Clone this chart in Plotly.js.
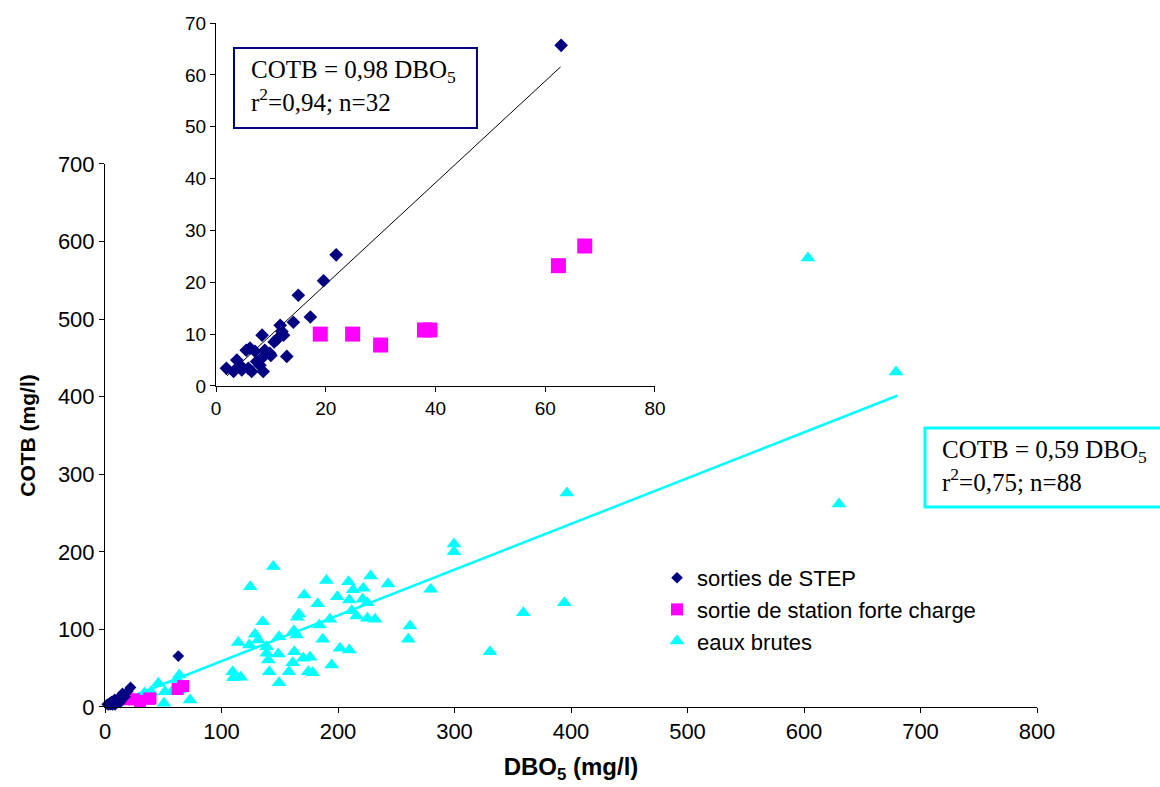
<!DOCTYPE html>
<html>
<head>
<meta charset="utf-8">
<script src="https://cdn.plot.ly/plotly-3.0.1.min.js"></script>
<style>html,body{margin:0;padding:0;background:#fff;}#chart{width:1160px;height:787px;}</style>
</head>
<body>
<div id="chart"></div>
<script>
// sorties de STEP (DBO5, COTB)
const stepDBO = [62.9, 21.9, 19.6, 15.0, 17.2, 14.1, 11.7, 12.0, 12.3, 11.1, 8.4, 12.9, 10.0, 6.2, 7.1, 8.9, 9.8, 8.3, 7.4, 8.0, 8.6, 5.9, 4.4, 3.8, 1.9, 3.2, 4.7, 6.5, 10.6, 5.5];
const stepCOTB = [65.7, 25.3, 20.3, 17.5, 13.3, 12.3, 11.7, 10.5, 9.8, 9.0, 9.8, 5.7, 5.9, 7.3, 6.7, 6.9, 6.3, 5.3, 4.7, 4.0, 2.8, 3.4, 4.0, 5.0, 3.4, 2.8, 3.1, 2.8, 8.5, 6.9];
// sortie de station forte charge
const forteDBO = [19.0, 24.9, 30.0, 38.0, 39.0, 62.4, 67.2];
const forteCOTB = [10.0, 10.0, 7.9, 10.8, 10.8, 23.2, 27.0];
// eaux brutes
const brutesDBO = [144.5, 124.7, 190, 209, 228, 243, 279.6, 171, 199.4, 213, 221.7, 182.6, 209.7, 221.2, 225.2, 166.5, 165.1, 211.8, 216, 225.2, 231.8, 193.1, 184, 135.4, 128.8, 114.4, 123.9, 131.6, 149.4, 162.2, 164.5, 138.8, 138.8, 148.8, 162.5, 170.2, 176, 186.9, 201.7, 209.7, 140.2, 161.1, 194.6, 141, 157.9, 174.5, 178.3, 149.4, 109.6, 110.2, 116.5, 260.4, 261.8, 63.8, 62, 45.8, 39.5, 51.5, 57.2, 63.8, 50.6, 73, 34, 299.6, 299.6, 330.5, 359.1, 394.3, 396.5, 603.4, 630, 679];
const brutesCOTB = [181, 155, 163, 161.5, 169, 158.6, 151.7, 144.4, 142, 151, 153, 133, 138, 138.8, 134.5, 120, 115.6, 124, 117.3, 114.3, 113, 113, 105.7, 110, 93.7, 83, 80, 86.4, 90.6, 98.4, 92.8, 77.7, 69.2, 68.3, 71.3, 62.8, 64.1, 87.3, 75.7, 73.5, 60.6, 57.1, 54.1, 45.5, 45.5, 45.5, 44.2, 31.3, 45.5, 37.8, 38.3, 87.3, 104.4, 41.2, 35.6, 30.5, 19.7, 19.7, 19.7, 21.9, 4.8, 9, 18, 210, 200, 71.3, 121.6, 134.5, 275.8, 578.8, 261.7, 431.9];
// regression lines COTB = a * DBO5
const stepSlope = 0.98;
const stepFitDBO = [2, 62.8];
const brutesSlope = 0.59;
const brutesFitDBO = [24, 680];

const NAVY = '#000080', MAG = '#FF00FF', CYAN = '#00FFFF';
const SANS = 'Liberation Sans, Arial, sans-serif';
const SERIF = 'Liberation Serif, Times New Roman, serif';

const traces = [
  {x: brutesFitDBO, y: brutesFitDBO.map(v => brutesSlope * v), mode: 'lines', line: {color: CYAN, width: 2.5}, showlegend: false, hoverinfo: 'skip', xaxis: 'x', yaxis: 'y'},
  {x: brutesDBO, y: brutesCOTB, mode: 'markers', name: 'eaux brutes', marker: {symbol: 'triangle-up', color: CYAN, size: 13}, cliponaxis: false, xaxis: 'x', yaxis: 'y', legendgroup: 'c', legendrank: 3},
  {x: forteDBO, y: forteCOTB, mode: 'markers', name: 'sortie de station forte charge', marker: {symbol: 'square', color: MAG, size: 12}, cliponaxis: false, xaxis: 'x', yaxis: 'y', legendgroup: 'b', legendrank: 2},
  {x: stepDBO, y: stepCOTB, mode: 'markers', name: 'sorties de STEP', marker: {symbol: 'diamond', color: NAVY, size: 9}, cliponaxis: false, xaxis: 'x', yaxis: 'y', legendgroup: 'a', legendrank: 1},
  {x: stepFitDBO, y: stepFitDBO.map(v => stepSlope * v), mode: 'lines', line: {color: '#000', width: 1}, showlegend: false, hoverinfo: 'skip', xaxis: 'x2', yaxis: 'y2'},
  {x: forteDBO, y: forteCOTB, mode: 'markers', marker: {symbol: 'square', color: MAG, size: 15}, showlegend: false, cliponaxis: false, xaxis: 'x2', yaxis: 'y2'},
  {x: stepDBO, y: stepCOTB, mode: 'markers', marker: {symbol: 'diamond', color: NAVY, size: 10.5}, showlegend: false, cliponaxis: false, xaxis: 'x2', yaxis: 'y2'}
];

const axBase = {showline: true, linecolor: '#000', linewidth: 1, ticks: 'outside', ticklen: 5, tickcolor: '#000', showgrid: false, zeroline: false};

const layout = {
  width: 1160, height: 787,
  margin: {l: 105, r: 123, t: 15, b: 80, pad: 0},
  paper_bgcolor: '#fff', plot_bgcolor: '#fff',
  showlegend: true,
  legend: {x: 0.5923, y: 0.2168, xanchor: 'left', yanchor: 'top', font: {family: SANS, size: 22, color: '#000'}, bgcolor: 'rgba(0,0,0,0)', tracegroupgap: 0, traceorder: 'grouped'},
  xaxis: Object.assign({}, axBase, {domain: [0, 1], anchor: 'y', range: [0, 800], tick0: 0, dtick: 100,
    tickfont: {family: SANS, size: 22, color: '#000'},
    title: {text: '<b>DBO<sub>5</sub> (mg/l)</b>', font: {family: SANS, size: 24, color: '#000'}, standoff: 14}}),
  yaxis: Object.assign({}, axBase, {domain: [0, 0.7847], anchor: 'x', range: [0, 700], tick0: 0, dtick: 100,
    tickfont: {family: SANS, size: 22, color: '#000'},
    title: {text: '<b>COTB (mg/l)</b>', font: {family: SANS, size: 21, color: '#000'}, standoff: 16}}),
  xaxis2: Object.assign({}, axBase, {domain: [0.1191, 0.5901], anchor: 'y2', range: [0, 80], tick0: 0, dtick: 20,
    tickfont: {family: SANS, size: 19, color: '#000'}}),
  yaxis2: Object.assign({}, axBase, {domain: [0.4639, 0.9884], anchor: 'x2', range: [0, 70], tick0: 0, dtick: 10,
    tickfont: {family: SANS, size: 19, color: '#000'}}),
  shapes: [
    {type: 'rect', xref: 'paper', yref: 'paper', x0: 0.1384, x1: 0.3991, y0: 0.8367, y1: 0.9523, line: {color: NAVY, width: 2}, fillcolor: '#fff', layer: 'above'},
    {type: 'rect', xref: 'paper', yref: 'paper', x0: 0.8798, x1: 1.148, y0: 0.289, y1: 0.4032, line: {color: CYAN, width: 3}, fillcolor: '#fff', layer: 'above'}
  ],
  annotations: [
    {xref: 'paper', yref: 'paper', x: 0.1545, y: 0.9436, xanchor: 'left', yanchor: 'top', align: 'left', showarrow: false,
     text: 'COTB = 0,98 DBO<sub>5</sub><br>r<sup>2</sup>=0,94; n=32', font: {family: SERIF, size: 25, color: '#000'}},
    {xref: 'paper', yref: 'paper', x: 0.8955, y: 0.3944, xanchor: 'left', yanchor: 'top', align: 'left', showarrow: false,
     text: 'COTB = 0,59 DBO<sub>5</sub><br>r<sup>2</sup>=0,75; n=88', font: {family: SERIF, size: 25, color: '#000'}}
  ]
};

Plotly.newPlot('chart', traces, layout, {displayModeBar: false, staticPlot: true});
</script>
</body>
</html>
